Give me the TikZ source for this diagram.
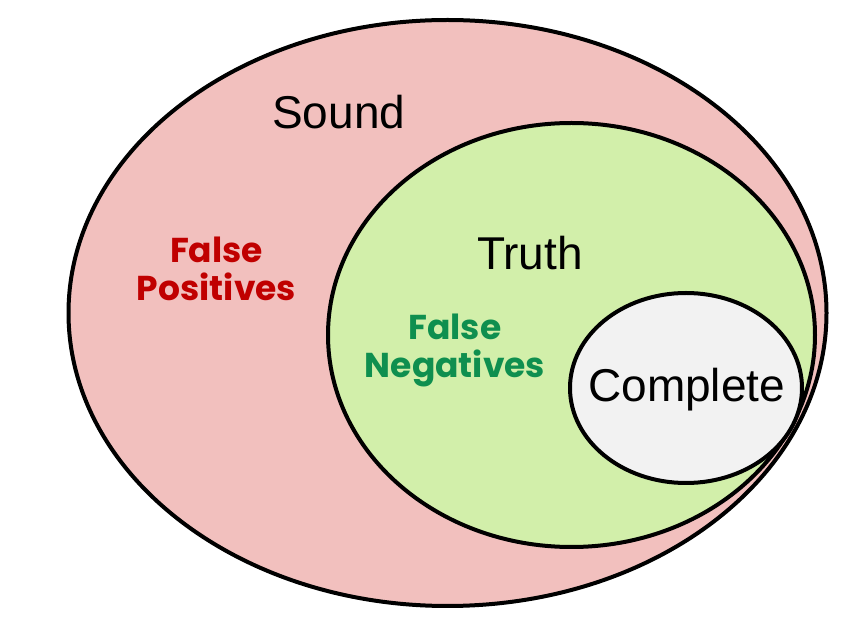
\documentclass[tikz,border=0pt]{standalone}
\usepackage{fontspec}
\setmainfont{Liberation Sans}
\newfontfamily\handfont{Poppins}
\definecolor{soundfill}{HTML}{F2C0BE}
\definecolor{truthfill}{HTML}{D2EFAA}
\definecolor{completefill}{HTML}{F2F2F2}
\definecolor{fpred}{HTML}{C00000}
\definecolor{fngreen}{HTML}{0F8F4F}
\tikzset{
  setline/.style={draw=black, line width=4pt},
  setname/.style={font=\fontsize{46}{50}\selectfont, inner sep=0pt},
  errlabel/.style={font=\handfont\bfseries\fontsize{34.5}{38}\selectfont, align=center, inner sep=0pt},
}
\begin{document}
\begin{tikzpicture}[x=1pt,y=-1pt]
  \useasboundingbox (0,0) rectangle (863,617);
  % the three sets
  \coordinate (soundc) at (447.5,313);
  \coordinate (truthc) at (571.5,335);
  \coordinate (completec) at (686,388);
  \path[setline, fill=soundfill] (soundc) ellipse [x radius=379, y radius=293];
  \path[setline, fill=truthfill] (truthc) ellipse [x radius=243.5, y radius=212];
  \path[setline, fill=completefill] (completec) ellipse [x radius=116, y radius=95];
  % labels
  \node[setname, anchor=base] (sound) at (338.7,129) {Sound};
  \node[setname, anchor=base] (truth) at (530,270) {Truth};
  \node[setname, anchor=base] (complete) at (686.7,401.7) {Complete};
  \node[errlabel, text=fpred] (falsepos) at (216.5,269) {False\\Positives};
  \node[errlabel, text=fngreen] (falseneg) at (455,350) {False\\Negatives};
\end{tikzpicture}
\end{document}
